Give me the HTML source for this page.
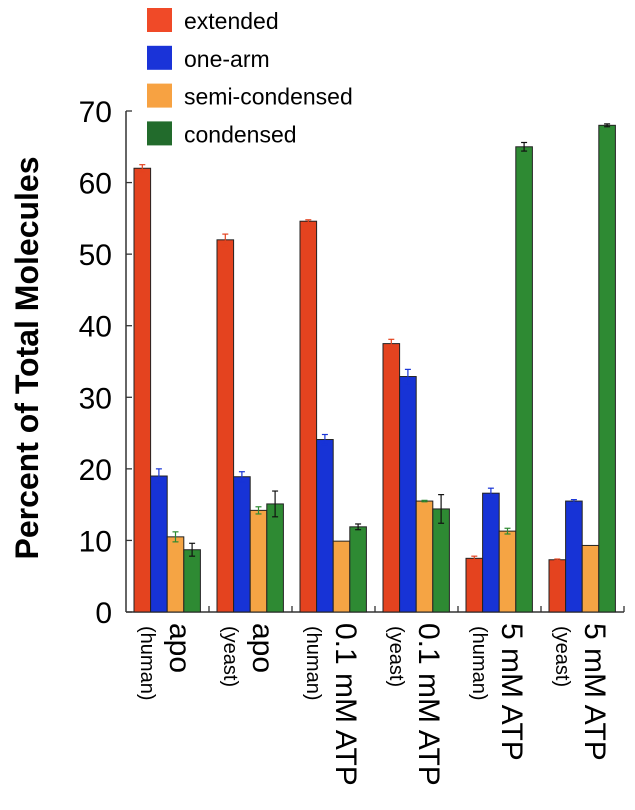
<!DOCTYPE html>
<html><head><meta charset="utf-8"><style>
html,body{margin:0;padding:0;background:#fff;}
svg{display:block;font-family:"Liberation Sans",Arial,sans-serif;}
</style></head><body>
<svg id="chart" width="635" height="810" viewBox="0 0 635 810" xmlns="http://www.w3.org/2000/svg">
<g id="legend"></g>
<text transform="translate(38,358) rotate(-90)" text-anchor="middle" font-size="32" font-weight="bold">Percent of Total Molecules</text>
<g id="axes"></g>
<g id="bars"></g>
<g id="labels"></g>
</svg>
<script>
const seriesNames = ["extended","one-arm","semi-condensed","condensed"];
const categoriesMain = ["apo","apo","0.1 mM ATP","0.1 mM ATP","5 mM ATP","5 mM ATP"];
const categoriesSub = ["(human)","(yeast)","(human)","(yeast)","(human)","(yeast)"];
const extended = [62, 52, 54.6, 37.5, 7.5, 7.3];
const oneArm = [19, 18.9, 24.1, 32.9, 16.6, 15.5];
const semiCondensed = [10.5, 14.2, 9.9, 15.5, 11.3, 9.3];
const condensed = [8.7, 15.1, 11.9, 14.4, 65, 68];
const errExtended = [0.5, 0.8, 0.2, 0.6, 0.3, 0.1];
const errOneArm = [1, 0.7, 0.7, 1, 0.7, 0.2];
const errSemi = [0.7, 0.5, 0, 0.1, 0.4, 0];
const errCondensed = [0.9, 1.8, 0.4, 2, 0.6, 0.2];
const yTicks = [0,10,20,30,40,50,60,70];

const series=[extended,oneArm,semiCondensed,condensed];
const errs=[errExtended,errOneArm,errSemi,errCondensed];
const fills=["#e4431f","#1733d6","#f5a444","#2e8a33"];
const legendFills=["#f04a28","#1a33d8","#f7a242","#226b2c"];
const errCol=["#e4431f","#1733d6","#2e8a33","#111"];
const NS="http://www.w3.org/2000/svg";
const X0=126, Y0=612, YS=(612-111)/70, GW=83, BW=16.6;
const y=v=>Y0-v*YS;
function mk(tag,attrs,parent){const e=document.createElementNS(NS,tag);for(const k in attrs)e.setAttribute(k,attrs[k]);parent.appendChild(e);return e;}
const axes=document.getElementById('axes'),bars=document.getElementById('bars'),labels=document.getElementById('labels'),legend=document.getElementById('legend');

seriesNames.forEach((n,i)=>{
  const r=mk('rect',{x:147,y:8+i*37.8,width:25,height:24,fill:legendFills[i]},legend);
  
  
  const t=mk('text',{x:184,y:29+i*37.8,'font-size':23},legend);
  t.textContent=n;
  
  
});

const yl=mk('line',{x1:X0,y1:y(70),x2:X0,y2:Y0,stroke:'#333','stroke-width':1.5},axes);


const xl=mk('line',{x1:X0,y1:Y0,x2:X0+6*GW,y2:Y0,stroke:'#333','stroke-width':1.5},axes);


yTicks.forEach(v=>{
  mk('line',{x1:X0,y1:y(v),x2:X0+6,y2:y(v),stroke:'#333','stroke-width':1.3},axes);
  const t=mk('text',{x:X0-14,y:y(v)+11,'text-anchor':'end','font-size':30},axes);
  t.textContent=v;
  
  
});
for(let g=1;g<=6;g++) mk('line',{x1:X0+g*GW,y1:Y0,x2:X0+g*GW,y2:Y0-6,stroke:'#333','stroke-width':1.3},axes);

categoriesMain.forEach((c,g)=>{
  const gx=X0+8+g*GW;
  series.forEach((s,i)=>{
    const bx=gx+i*BW;
    const r=mk('rect',{x:bx,y:y(s[g]),width:BW,height:Y0-y(s[g]),fill:fills[i],stroke:'#222','stroke-width':1},bars);
    
    
    const e=errs[i][g];
    if(e>0){
      const cx=bx+BW/2;
      mk('line',{x1:cx,y1:y(s[g]+e),x2:cx,y2:y(s[g]-e),stroke:errCol[i],'stroke-width':1.2},bars);
      mk('line',{x1:cx-3,y1:y(s[g]+e),x2:cx+3,y2:y(s[g]+e),stroke:errCol[i],'stroke-width':1.2},bars);
      mk('line',{x1:cx-3,y1:y(s[g]-e),x2:cx+3,y2:y(s[g]-e),stroke:errCol[i],'stroke-width':1.2},bars);
    }
  });
  const t1=mk('text',{transform:`translate(${gx+7},626) rotate(90)`,'font-size':20},labels);
  t1.textContent=categoriesSub[g];
  
  
  const t2=mk('text',{transform:`translate(${gx+36},623) rotate(90)`,'font-size':30},labels);
  t2.textContent=c;
  
  
});
</script>
</body></html>
